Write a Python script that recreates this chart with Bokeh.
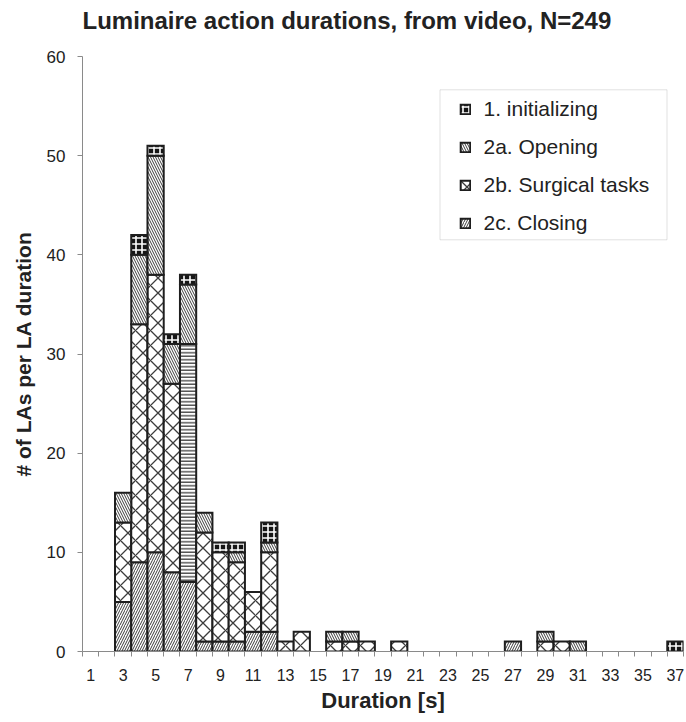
from bokeh.plotting import figure
from bokeh.models import (ColumnDataSource, FixedTicker, Legend, LegendItem, Range1d,
                          BoxAnnotation, Title)
from bokeh.core.properties import field
from bokeh.embed import file_html
from bokeh.resources import INLINE

# ---- data (counts of luminaire actions per duration bin, seconds 1..37) ----
durations = list(range(1, 38))
closing = [0, 0, 5, 9, 10, 8, 7, 1, 1, 1, 2, 2, 0, 0, 0, 0, 0, 0, 0, 0,
           0, 0, 0, 0, 0, 0, 1, 0, 0, 0, 0, 0, 0, 0, 0, 0, 0]
surgical = [0, 0, 8, 24, 28, 19, 24, 11, 9, 8, 4, 8, 1, 2, 0, 1, 1, 1, 0, 1,
            0, 0, 0, 0, 0, 0, 0, 0, 1, 1, 0, 0, 0, 0, 0, 0, 0]
opening = [0, 0, 3, 7, 12, 4, 6, 2, 0, 1, 0, 1, 0, 0, 0, 1, 1, 0, 0, 0,
           0, 0, 0, 0, 0, 0, 0, 0, 1, 0, 1, 0, 0, 0, 0, 0, 0]
initializing = [0, 0, 0, 2, 1, 1, 1, 0, 1, 1, 0, 2, 0, 0, 0, 0, 0, 0, 0, 0,
                0, 0, 0, 0, 0, 0, 0, 0, 0, 0, 0, 0, 0, 0, 0, 0, 1]
tick_values = list(range(1, 38, 2))
y_ticks = [0, 10, 20, 30, 40, 50, 60]

title_text = "Luminaire action durations, from video, N=249"
labels = {"closing": "2c. Closing", "surgical": "2b. Surgical tasks",
          "opening": "2a. Opening", "initializing": "1. initializing"}

FONT = "Liberation Sans"
INK = "#1e1e1e"
HATCH = "#3c3c3c"
TXT = "#222222"

p = figure(width=686, height=722, output_backend="svg", toolbar_location=None,
           x_range=Range1d(0.5, 37.5), y_range=Range1d(0, 60),
           min_border_left=82, min_border_right=3, min_border_top=56, min_border_bottom=71)
p.outline_line_color = None
p.xgrid.visible = False
p.ygrid.visible = False
p.background_fill_color = "white"

styles = {
    "closing": dict(fill_color="white", hatch_pattern="/", hatch_scale=5,
                    hatch_color=HATCH, hatch_weight=1),
    "surgical": dict(fill_color="white",
                     hatch_color=HATCH, hatch_weight=1.3),
    "opening": dict(fill_color="white", hatch_pattern="\\", hatch_scale=5,
                    hatch_color=HATCH, hatch_weight=1),
    "initializing": dict(fill_color="#161616", hatch_pattern="+", hatch_scale=6,
                         hatch_color="white", hatch_weight=1.6),
}
moire_durations = [7]  # the surgical block at 7 s is printed with horizontal lines

series = [("closing", closing), ("surgical", surgical),
          ("opening", opening), ("initializing", initializing)]
base = [0] * len(durations)
renderers = {}
legend_index = {}
for key, vals in series:
    rows = [i for i, v in enumerate(vals) if v > 0]
    data = dict(x=[durations[i] for i in rows],
                bottom=[base[i] for i in rows],
                top=[base[i] + vals[i] for i in rows])
    style = dict(styles[key])
    if key == "surgical":
        data["hatch"] = ["-" if durations[i] in moire_durations else "x" for i in rows]
        data["hscale"] = [3.5 if h == "-" else 15 for h in data["hatch"]]
        style["hatch_pattern"] = field("hatch")
        style["hatch_scale"] = field("hscale")
        legend_index[key] = data["hatch"].index("x")
    src = ColumnDataSource(data)
    r = p.vbar(x="x", bottom="bottom", top="top", width=1, source=src,
               line_color=INK, line_width=2, line_join="miter", **style)
    renderers[key] = r
    for i in rows:
        base[i] += vals[i]

# axes
xa = p.xaxis[0]
xa.ticker = FixedTicker(ticks=tick_values, minor_ticks=[d - 0.5 for d in durations] + [37.5])
xa.major_tick_in = 0
xa.major_tick_out = 0
xa.minor_tick_in = 0
xa.minor_tick_out = 5
xa.minor_tick_line_color = "#8a8a8a"
xa.axis_line_color = "#8a8a8a"
xa.major_label_text_font = FONT
xa.major_label_text_font_size = "16px"
xa.major_label_text_color = TXT
xa.major_label_standoff = 12
xa.axis_label = "Duration [s]"
xa.axis_label_text_font = FONT
xa.axis_label_text_font_style = "bold"
xa.axis_label_text_font_size = "22px"
xa.axis_label_text_color = TXT
xa.axis_label_standoff = 4

ya = p.yaxis[0]
ya.ticker = FixedTicker(ticks=y_ticks)
ya.major_tick_in = 0
ya.major_tick_out = 5
ya.minor_tick_line_color = None
ya.major_tick_line_color = "#8a8a8a"
ya.axis_line_color = "#8a8a8a"
ya.major_label_text_font = FONT
ya.major_label_text_font_size = "17px"
ya.major_label_text_color = TXT
ya.major_label_standoff = 12
ya.axis_label = "# of LAs per LA duration"
ya.axis_label_text_font = FONT
ya.axis_label_text_font_style = "bold"
ya.axis_label_text_font_size = "21px"
ya.axis_label_text_color = TXT
ya.axis_label_standoff = 9

# title: a thin blank strip next to the frame, then the title text above it
p.title = None
spacer = Title(text=" ", text_font=FONT, text_font_size="12px", standoff=0)
p.add_layout(spacer, "above")
main_title = Title(text=title_text, text_font=FONT, text_font_style="bold",
                   text_font_size="24px", text_color=TXT, align="left", offset=0,
                   vertical_align="top", standoff=10)
p.add_layout(main_title, "above")

# legend frame (drawn as a box in screen units) and legend entries
legend_box = BoxAnnotation(left=357.5, right=584.5, bottom=411.7, top=561.7,
                           left_units="screen", right_units="screen",
                           bottom_units="screen", top_units="screen",
                           fill_color="white", fill_alpha=1,
                           line_color="#9a9a9a", line_width=1)
p.add_layout(legend_box)

items = []
for key in ["initializing", "opening", "surgical", "closing"]:
    kw = {}
    if key in legend_index:
        kw["index"] = legend_index[key]
    items.append(LegendItem(label=labels[key], renderers=[renderers[key]], **kw))
legend = Legend(items=items, location=(376.5, 415.7), orientation="vertical",
                label_text_font=FONT, label_text_font_size="21px",
                label_text_color=TXT,
                glyph_width=12, glyph_height=12, label_height=24,
                label_standoff=13, spacing=14, padding=0, margin=0,
                label_width=150,
                border_line_color=None, background_fill_alpha=0)
p.add_layout(legend, "center")

open("out.html", "w").write(file_html(p, INLINE))
